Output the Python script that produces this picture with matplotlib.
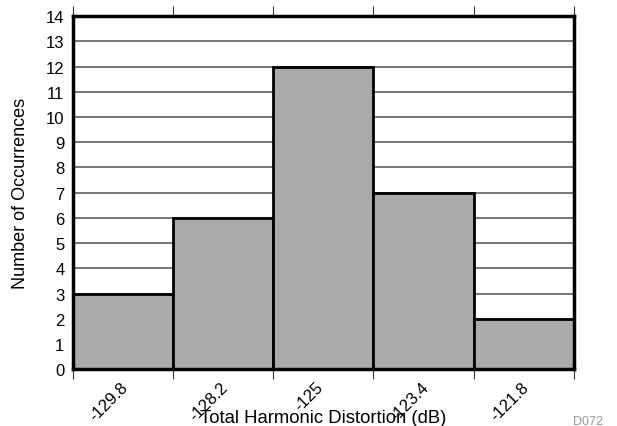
import numpy as np
import matplotlib.pyplot as plt
from matplotlib.transforms import ScaledTranslation

plt.rcParams['font.family'] = ['Liberation Sans', 'DejaVu Sans']

# 数据
bin_labels = ['-129.8', '-128.2', '-125', '-123.4', '-121.8']
counts = [3, 6, 12, 7, 2]

fig = plt.figure(figsize=(6.17, 4.27), dpi=100)
ax = fig.add_axes([0.118, 0.133, 0.812, 0.827])

x = np.arange(len(counts))
ax.bar(x, counts, width=1.0, align='edge', color='#aaaaaa',
       edgecolor='black', linewidth=2, zorder=3)

ax.set_xlim(0, len(counts))
ax.set_ylim(0, 14)

# 网格线
ax.set_yticks(range(0, 15))
ax.yaxis.grid(True, color='#606060', linewidth=1.2, zorder=0)
ax.set_axisbelow(True)
ax.tick_params(axis='y', length=0, labelsize=12, pad=6)

# x轴刻度--在柱子边缘
ax.set_xticks(range(0, len(counts) + 1))
ax.set_xticklabels(bin_labels + [''], rotation=45, ha='center', fontsize=12)
ax.tick_params(axis='x', which='both', direction='out', length=7.2, width=0.8,
               top=True, color='#333333', pad=0)
# 标签整体右移
for lab in ax.get_xticklabels():
    lab.set_transform(lab.get_transform() + ScaledTranslation(0.36, 0.0, fig.dpi_scale_trans))

for sp in ax.spines.values():
    sp.set_linewidth(2.5)
    sp.set_zorder(4)

ax.set_ylabel('Number of Occurrences', fontsize=13)
ax.yaxis.label.set_va('center')
ax.yaxis.set_label_coords(-0.104, 0.5)
fig.text(0.524, 0.0094, 'Total Harmonic Distortion (dB)', ha='center', va='baseline', fontsize=13.3)
fig.text(0.953, 0.005, 'D072', ha='center', va='baseline', fontsize=9, color='#999999')

plt.savefig('out.png', dpi=100)
